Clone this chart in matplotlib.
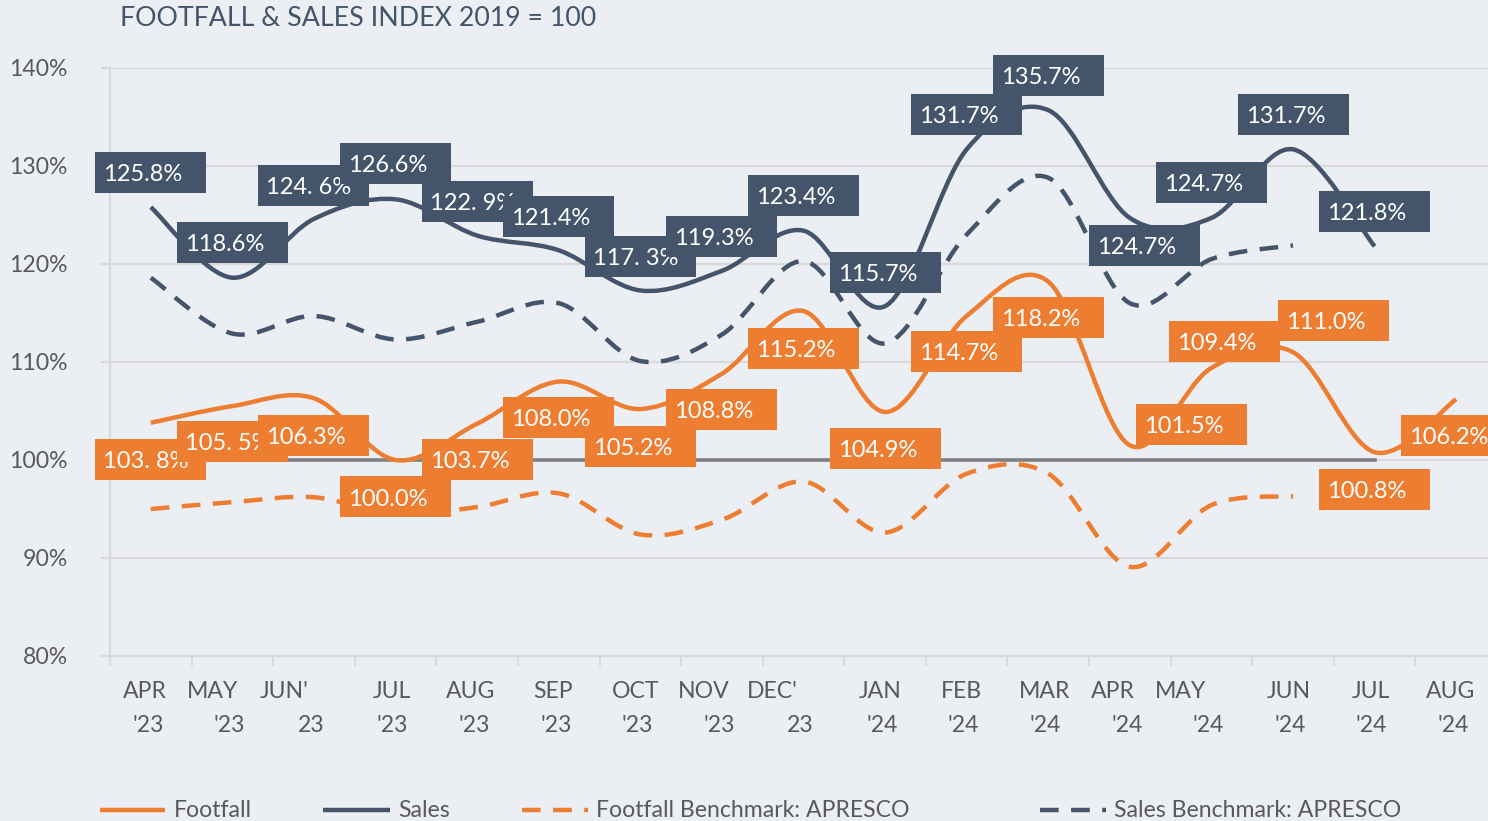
import numpy as np
import matplotlib
matplotlib.use("Agg")
import matplotlib.pyplot as plt
from matplotlib.path import Path
from matplotlib.patches import PathPatch, Rectangle
from matplotlib.lines import Line2D
from matplotlib.transforms import ScaledTranslation

# ---------------- data ----------------
months_top = ["APR", "MAY", "JUN'", "JUL", "AUG", "SEP", "OCT", "NOV", "DEC'",
              "JAN", "FEB", "MAR", "APR", "MAY", "JUN", "JUL", "AUG"]
months_bottom = ["'23", "'23", "23", "'23", "'23", "'23", "'23", "'23", "23",
                 "'24", "'24", "'24", "'24", "'24", "'24", "'24", "'24"]

footfall = [103.8, 105.5, 106.3, 100.0, 103.7, 108.0, 105.2, 108.8, 115.2,
            104.9, 114.7, 118.2, 101.5, 109.4, 111.0, 100.8, 106.2]
sales = [125.8, 118.6, 124.6, 126.6, 122.9, 121.4, 117.3, 119.3, 123.4,
         115.7, 131.7, 135.7, 124.7, 124.7, 131.7, 121.8]
footfall_bench = [95.0, 95.7, 96.2, 94.5, 95.2, 96.6, 92.4, 93.9, 97.8,
                  92.6, 98.6, 98.6, 89.1, 95.4, 96.3]
sales_bench = [118.6, 112.9, 114.7, 112.3, 114.1, 116.0, 110.1, 112.8, 120.3,
               111.9, 123.0, 128.8, 116.0, 120.5, 121.9]
baseline = [100.0] * 16

footfall_labels = ["103. 8%", "105. 5%", "106.3%", "100.0%", "103.7%", "108.0%",
                   "105.2%", "108.8%", "115.2%", "104.9%", "114.7%", "118.2%",
                   "101.5%", "109.4%", "111.0%", "100.8%", "106.2%"]
sales_labels = ["125.8%", "118.6%", "124. 6%", "126.6%", "122. 9%", "121.4%",
                "117. 3%", "119.3%", "123.4%", "115.7%", "131.7%", "135.7%",
                "124.7%", "124.7%", "131.7%", "121.8%"]

y_ticks = [80, 90, 100, 110, 120, 130, 140]
title = "FOOTFALL & SALES INDEX 2019 = 100"
legend_names = ["Footfall", "Sales", "Footfall Benchmark: APRESCO", "Sales Benchmark: APRESCO"]

# ---------------- style / layout ----------------
ORANGE = "#ED7D31"
NAVY = "#44546A"
GRAY_TXT = "#595959"
GRID = "#D9D9D9"
BG = "#EBEEF3"
FONT = "Lato"
TICK_FS = 16.6
LABEL_FS = 17.0

W, H, DPI = 1488, 821, 100
plt.rcParams["font.family"] = [FONT, "DejaVu Sans"]

fig = plt.figure(figsize=(W / DPI, H / DPI), dpi=DPI, facecolor=BG)
ax_left, ax_right, ax_top, ax_bot = 110, 1497, 68, 656
ax = fig.add_axes([ax_left / W, (H - ax_bot) / H, (ax_right - ax_left) / W, (ax_bot - ax_top) / H])
ax.set_facecolor(BG)
ax.set_xlim(-0.5, 16.5)
ax.set_ylim(80, 140)

# grid / axes
ax.set_yticks(y_ticks)
ax.set_yticklabels([f"{v}%" for v in y_ticks], fontsize=TICK_FS, color=GRAY_TXT)
ax.yaxis.grid(True, color=GRID, lw=1.6)
ax.set_axisbelow(True)
ax.set_xticks(np.arange(-0.5, 17.0, 1.0))
ax.set_xticklabels([])
ax.tick_params(axis="x", length=7, width=1.3, color=GRID)
ax.tick_params(axis="y", length=6.5, width=1.6, color=GRID, pad=24)
for s in ["top", "right"]:
    ax.spines[s].set_visible(False)
ax.spines["left"].set_color(GRID)
ax.spines["left"].set_linewidth(1.6)
ax.spines["bottom"].set_color(GRID)
ax.spines["bottom"].set_linewidth(1.6)


def smooth_path(ys):
    pts = np.column_stack([np.arange(len(ys)), ys]).astype(float)
    n = len(pts)
    verts = [pts[0]]
    codes = [Path.MOVETO]
    for i in range(n - 1):
        p0 = pts[i - 1] if i > 0 else pts[i]
        p1, p2 = pts[i], pts[i + 1]
        p3 = pts[i + 2] if i + 2 < n else pts[i + 1]
        verts += [p1 + (p2 - p0) / 6.0, p2 - (p3 - p1) / 6.0, p2]
        codes += [Path.CURVE4] * 3
    return Path(verts, codes)


LW = 3.2
DASH = (0, (4.2, 2.8))
ax.plot(np.arange(len(baseline)), baseline, color="#808080", lw=2.6, zorder=2)
for ys, col, ls in [(footfall, ORANGE, "-"), (sales, NAVY, "-"),
                    (footfall_bench, ORANGE, DASH), (sales_bench, NAVY, DASH)]:
    ax.add_patch(PathPatch(smooth_path(ys), fill=False, edgecolor=col, lw=LW,
                           linestyle=ls, capstyle="butt", joinstyle="round", zorder=3))

# ---------------- data labels ----------------
BOX_W, BOX_H = 111, 41
ff_off = [(0, -37), (0, -35), (0, -37), (0, -37), (0, -36), (0, -36), (0, -37), (0, -36),
          (0, -37), (0, -37), (0, -36), (0, -36), (62, 21), (13, 26), (40, 32), (0, -37), (0, -36)]
sa_off = [(0, 35), (0, 35), (0, 33), (0, 36), (0, 34), (0, 34), (0, 34), (0, 34),
          (0, 35), (0, 34), (0, 35), (0, 35), (15, -28), (0, 35), (0, 35), (0, 35)]


def draw_labels(vals, texts, offs, color, z0):
    for i, (v, t, (dx, dy)) in enumerate(zip(vals, texts, offs)):
        tr = fig.dpi_scale_trans + ScaledTranslation(i, v, ax.transData)
        x0 = (dx - BOX_W / 2) / DPI
        y0 = (dy - BOX_H / 2) / DPI
        z = z0 + i * 0.01
        ax.add_patch(Rectangle((x0, y0), BOX_W / DPI, BOX_H / DPI, transform=tr,
                               facecolor=color, edgecolor="none", zorder=z, clip_on=False))
        ax.text(x0 + 8 / DPI, dy / DPI, t, transform=tr, ha="left", va="center_baseline",
                color="white", fontsize=LABEL_FS, zorder=z + 0.001, clip_on=False)


draw_labels(footfall, footfall_labels, ff_off, ORANGE, 10)
draw_labels(sales, sales_labels, sa_off, NAVY, 11)

# ---------------- x tick labels (two rows) ----------------
top_dx = [-6, -20, -30, -4, -7, -6, -5, -18, -31, -5, -5, -4, -17, -31, -4, -4, -6]
for i, (a, b) in enumerate(zip(months_top, months_bottom)):
    ax.annotate(a, xy=(i, (H - 691) / H), xycoords=("data", "figure fraction"),
                xytext=(top_dx[i], 0), textcoords="offset pixels", ha="center",
                va="center", fontsize=TICK_FS, color=GRAY_TXT, annotation_clip=False)
    ax.annotate(b, xy=(i, (H - 725) / H), xycoords=("data", "figure fraction"),
                xytext=(-3, 0), textcoords="offset pixels", ha="center",
                va="center", fontsize=TICK_FS, color=GRAY_TXT, annotation_clip=False)

# ---------------- title ----------------
fig.text(120 / W, (H - 18) / H, title, ha="left", va="center", fontsize=19.3, color=NAVY)

# ---------------- legend ----------------
leg_items = [(100, 165, 174, ORANGE, "-"), (323, 390, 398, NAVY, "-"),
             (522, 588, 596, ORANGE, DASH), (1040, 1106, 1114, NAVY, DASH)]
ly = (H - 810) / H
for (x1, x2, xt, col, ls), name in zip(leg_items, legend_names):
    fig.add_artist(Line2D([x1 / W, x2 / W], [ly, ly], color=col, lw=LW, linestyle=ls,
                          solid_capstyle="butt", dash_capstyle="butt"))
    fig.text(xt / W, ly, name, ha="left", va="center", fontsize=TICK_FS, color=GRAY_TXT)

fig.savefig("out.png", dpi=DPI, facecolor=BG)
